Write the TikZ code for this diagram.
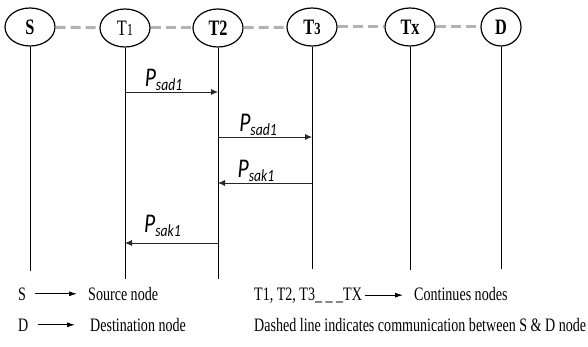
\documentclass[tikz,border=0pt]{standalone}
\usepackage{fontspec}
\setmainfont{Liberation Serif}[FakeStretch=0.74]
\newfontfamily\lblfont{Carlito}[FakeStretch=0.8]
\usetikzlibrary{shapes.geometric,arrows.meta,calc}

\tikzset{
  party/.style={draw, ellipse, line width=1.2pt, minimum width=50pt, minimum height=38pt, inner sep=0pt, font=\fontsize{22}{22}\selectfont},
  link/.style={gray!60, line width=3pt, dash pattern=on 10pt off 5pt},
  life/.style={line width=0.9pt},
  msg/.style={line width=0.8pt, black!85, -{Latex[length=7pt,width=6pt]}},
  lbl/.style={font=\lblfont\itshape\fontsize{27}{27}\selectfont, inner sep=1pt, black},
  legtext/.style={font=\fontsize{19}{20}\selectfont, inner sep=0pt, anchor=base west},
  legarrow/.style={line width=0.9pt, -{Latex[length=8pt,width=5pt]}}
}
\newcommand{\psub}[1]{P\raisebox{-4pt}{\fontsize{17}{17}\selectfont #1}}
\newcommand{\smdig}[1]{{\fontsize{17}{17}\selectfont #1}}

\begin{document}
\begin{tikzpicture}[x=1pt,y=-1pt]
        \useasboundingbox (0,0) rectangle (588,347);

        \node[party] (S) at (30,27) {\textbf{S}};
        \node[party] (T1) at (125,28) {T\smdig{1}};
        \node[party] (T2) at (218,28) {\textbf{T2}};
        \node[party] (T3) at (312,27) {\textbf{T\smdig{3}}};
        \node[party] (Tx) at (410,27) {\textbf{Tx}};
        \node[party, minimum width=40pt] (D) at (501,27) {\textbf{D}};

        \draw[link] (S) -- (T1);
        \draw[link] (T1) -- (T2);
        \draw[link] (T2) -- (T3);
        \draw[link] (T3) -- (Tx);
        \draw[link] (Tx) -- (D);

        \coordinate (Send) at (30,271);
        \coordinate (T1end) at (125,279);
        \coordinate (T2end) at (218,279);
        \coordinate (T3end) at (312,269);
        \coordinate (Txend) at (410,270);
        \coordinate (Dend) at (501,269);
        \draw[life] (S) -- (Send);
        \draw[life] (T1) -- (T1end);
        \draw[life] (T2) -- (T2end);
        \draw[life] (T3) -- (T3end);
        \draw[life] (Tx) -- (Txend);
        \draw[life] (D) -- (Dend);

        \draw[msg] ($(T1)+(0,64)$) -- ($(T2)+(0,64)$)
        node[lbl, midway, above=0pt, xshift=-8pt] {\psub{sad1}};
        \draw[msg] ($(T2)+(0,109)$) -- ($(T3)+(0,110)$)
        node[lbl, midway, above=0pt, xshift=-7pt] {\psub{sad1}};
        \draw[msg] ($(T3)+(0,156)$) -- ($(T2)+(0,155)$)
        node[lbl, midway, above=0pt, xshift=-9pt] {\psub{sak1}};
        \draw[msg] ($(T2)+(0,215)$) -- ($(T1)+(0,215)$)
        node[lbl, midway, above=5pt, xshift=-9pt] {\psub{sak1}};

        \node[legtext] (kS) at (18,300) {S};
        \node[legtext] (kSrc) at (88,300) {Source node};
        \draw[legarrow, shorten <=9pt, shorten >=11pt] (kS.east) -- (kS.east -| kSrc.west);

        \node[legtext] (kD) at (18,331) {D};
        \node[legtext] (kDst) at (90,331) {Destination node};
        \draw[legarrow, shorten <=9pt, shorten >=15pt] (kD.east) -- (kD.east -| kDst.west);

        \node[legtext] (kT) at (254,300) {T1, T2, T3\_ \_ \_TX};
        \node[legtext] (kCont) at (414,300) {Continues nodes};
        \draw[legarrow, shorten <=3pt, shorten >=11pt] (kT.east) -- (kT.east -| kCont.west);

        \node[legtext] (kDash) at (254,331) {Dashed line indicates communication between S \& D node};
    \end{tikzpicture}
\end{document}
